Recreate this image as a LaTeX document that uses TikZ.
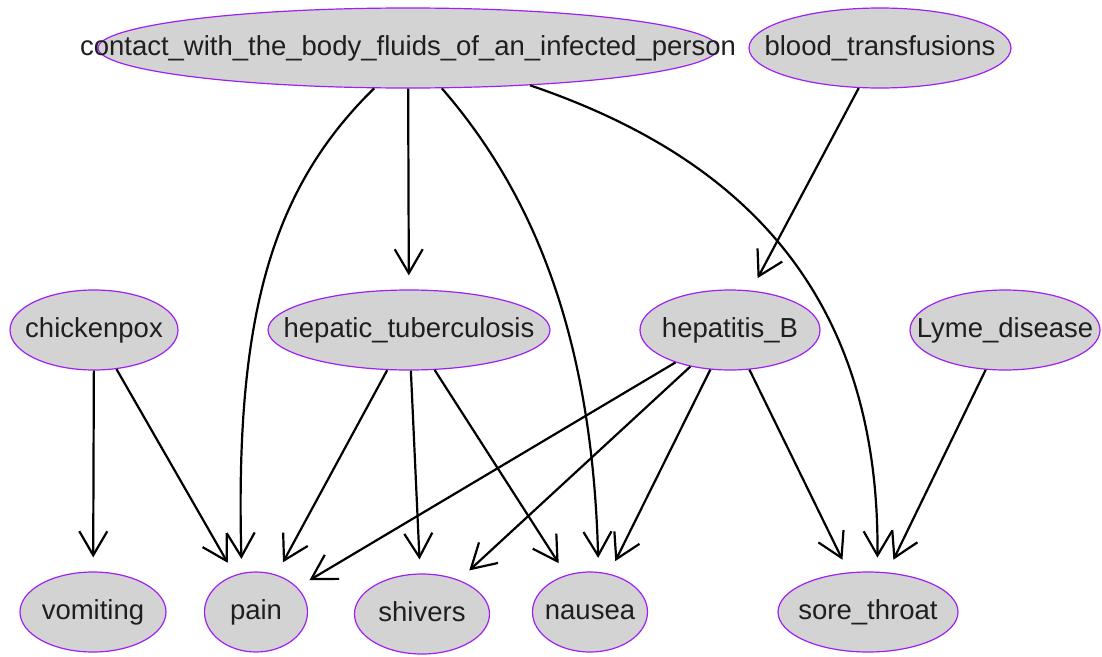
\documentclass[tikz,border=0pt]{standalone}
\usepackage{fontspec}
\setmainfont{Liberation Sans}
\usetikzlibrary{shapes.geometric,arrows.meta}
\definecolor{nodefill}{HTML}{D3D3D3}
\definecolor{nodeline}{HTML}{A020F0}
\begin{document}
\begin{tikzpicture}[x=1pt,y=-1pt,
  nd/.style={ellipse, draw=nodeline, fill=nodefill, line width=1.2pt, inner sep=0pt, minimum height=80pt},
  txt/.style={inner sep=0pt, yshift=-5pt, font=\fontsize{27.5}{33}\selectfont, text=black!88, text height=0.78em, text depth=0.2em},
  edge/.style={draw=black, line width=2.2pt, -{Straight Barb[length=24pt,width=28pt]}, shorten >=14pt}
]
\useasboundingbox (0,0) rectangle (1102,656);
% nodes
\node[nd, minimum width=620pt] (contact) at (408,48) {};
\node[nd, minimum width=262pt] (blood) at (880,48) {};
\node[nd, minimum width=168pt] (chicken) at (94,330) {};
\node[nd, minimum width=282pt] (heptub) at (409,330) {};
\node[nd, minimum width=180pt] (hepB) at (730,330) {};
\node[nd, minimum width=190pt] (lyme) at (1005,330) {};
\node[nd, minimum width=146pt] (vomit) at (93,612) {};
\node[nd, minimum width=103pt] (pain) at (256,612) {};
\node[nd, minimum width=135pt] (shiv) at (422,614) {};
\node[nd, minimum width=115pt] (naus) at (590,612) {};
\node[nd, minimum width=180pt] (sore) at (868,612) {};
% texts
\node[txt] (contact-t) at (contact) {contact\_with\_the\_body\_fluids\_of\_an\_infected\_person};
\node[txt] (blood-t) at (blood) {blood\_transfusions};
\node[txt] (chicken-t) at (chicken) {chickenpox};
\node[txt] (heptub-t) at (heptub) {hepatic\_tuberculosis};
\node[txt] (hepB-t) at (hepB) {hepatitis\_B};
\node[txt] (lyme-t) at (lyme) {Lyme\_disease};
\node[txt] (vomit-t) at (vomit) {vomiting};
\node[txt] (pain-t) at (pain) {pain};
\node[txt] (shiv-t) at (shiv) {shivers};
\node[txt] (naus-t) at (naus) {nausea};
\node[txt] (sore-t) at (sore) {sore\_throat};
% edges
\draw[edge] (contact.230) .. controls (270,190) and (235,320) .. (pain.110);
\draw[edge] (contact) -- (heptub);
\draw[edge] (contact.310) .. controls (530,190) and (592,330) .. (naus.78);
\draw[edge] (contact.343) .. controls (720,150) and (880,275) .. (sore.77);
\draw[edge] (blood) -- (hepB);
\draw[edge] (chicken) -- (vomit);
\draw[edge] (chicken) -- (pain);
\draw[edge] (heptub) -- (pain);
\draw[edge] (heptub) -- (shiv);
\draw[edge] (heptub) -- (naus);
\draw[edge] (hepB) -- (pain);
\draw[edge] (hepB) -- (shiv);
\draw[edge] (hepB) -- (naus);
\draw[edge] (hepB) -- (sore);
\draw[edge] (lyme) -- (sore);
\end{tikzpicture}
\end{document}
